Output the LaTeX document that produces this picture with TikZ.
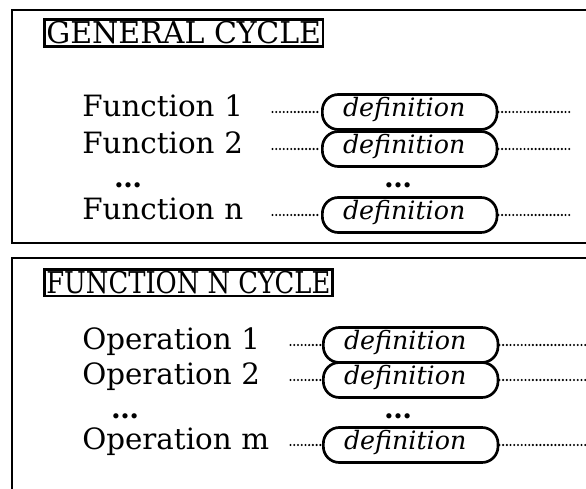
\documentclass[tikz,border=0pt]{standalone}
\usepackage{fontspec}
\setmainfont{DejaVu Serif}
\usetikzlibrary{positioning}

\tikzset{
  frame/.style={line width=2.2pt},
  titlebox/.style={draw, line width=2pt, anchor=west, inner xsep=1.5pt, inner ysep=0pt,
    minimum height=20pt, font=\fontsize{22.5}{22.5}\selectfont},
  lab/.style={anchor=west, inner xsep=0pt, text width=#1, align=left,
    text height=1.6ex, text depth=0.3ex, font=\fontsize{22}{22}\selectfont},
  defbox/.style={draw, line width=2pt, rounded corners=12pt, anchor=west,
    minimum height=26.25pt, inner xsep=15.5pt, text width=100pt, align=left,
    text height=1.6ex, text depth=0.3ex, font=\fontsize{19}{19}\selectfont\itshape},
  etc/.style={font=\fontsize{21}{21}\selectfont\bfseries},
  link/.style={line width=1.8pt, line cap=round, dash pattern=on 0pt off 2.8pt}
}

\begin{document}
\begin{tikzpicture}[x=0.75pt, y=-0.75pt]
\useasboundingbox (0,0) rectangle (586,489);

% general cycle
\draw[frame] (590,10) -- (12,10) -- (12,243) -- (590,243);
\node[titlebox] (gen) at (43,33) {GENERAL CYCLE};

\node[lab=142.5pt] (f1) at (82,112) {Function 1};
\node[lab=142.5pt] (f2) at (82,149) {Function 2};
\node[etc] (fdots) at (128,185) {\ldots};
\node[lab=142.5pt] (fn) at (82,215) {Function n};

\node[defbox] (fd1) at (321,112) {definition};
\node[defbox] (fd2) at (321,149) {definition};
\node[etc] (fddots) at (398,185) {\ldots};
\node[defbox] (fdn) at (321,215) {definition};

\coordinate (fe1) at (570,112);
\coordinate (fe2) at (570,149);
\coordinate (fen) at (570,215);

\draw[link] (f1) -- (fd1);
\draw[link] (f2) -- (fd2);
\draw[link] (fn) -- (fdn);
\draw[link] (fd1) -- (fe1);
\draw[link] (fd2) -- (fe2);
\draw[link] (fdn) -- (fen);

% function n cycle
\draw[frame] (590,258) -- (12,258) -- (12,492);
\node[titlebox] (fun) at (43,282.5) {\scalebox{0.86}[1]{FUNCTION N CYCLE}};

\node[lab=156pt] (o1) at (82,345) {Operation 1};
\node[lab=156pt] (o2) at (82,380) {Operation 2};
\node[etc] (odots) at (125,416) {\ldots};
\node[lab=156pt] (om) at (82,445) {Operation m};

\node[defbox] (od1) at (322,345) {definition};
\node[defbox] (od2) at (322,380) {definition};
\node[etc] (oddots) at (398,416) {\ldots};
\node[defbox] (odm) at (322,445) {definition};

\coordinate (oe1) at (590,345);
\coordinate (oe2) at (590,380);
\coordinate (oem) at (590,445);

\draw[link] (o1) -- (od1);
\draw[link] (o2) -- (od2);
\draw[link] (om) -- (odm);
\draw[link] (od1) -- (oe1);
\draw[link] (od2) -- (oe2);
\draw[link] (odm) -- (oem);

\end{tikzpicture}
\end{document}
